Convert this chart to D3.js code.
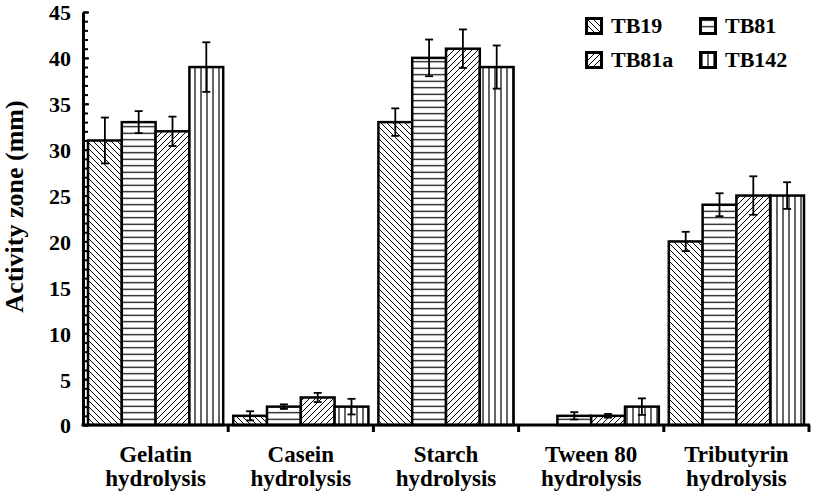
<!DOCTYPE html>
<html>
<head>
<meta charset="utf-8">
<script src="https://cdn.jsdelivr.net/npm/d3@7"></script>
<style>
	body { margin: 0; background: #fff; }
	svg { display: block; }
	text { font-family: "Liberation Serif", "Times New Roman", serif; font-weight: bold; fill: #000; }
</style>
</head>
<body>
<div id="chart"></div>
<script>
// categories on the x axis (two lines each)
var categories = ["Gelatin hydrolysis", "Casein hydrolysis", "Starch hydrolysis", "Tween 80 hydrolysis", "Tributyrin hydrolysis"];
var categoryLines = [["Gelatin", "hydrolysis"], ["Casein", "hydrolysis"], ["Starch", "hydrolysis"], ["Tween 80", "hydrolysis"], ["Tributyrin", "hydrolysis"]];
var series = ["TB19", "TB81", "TB81a", "TB142"];

// activity zone (mm), one array per strain
var tb19 = [31, 1, 33, 0, 20];
var tb81 = [33, 2, 40, 1, 24];
var tb81a = [32, 3, 41, 1, 25];
var tb142 = [39, 2, 39, 2, 25];

// error bar half-lengths
var tb19Err = [2.5, 0.5, 1.5, 0, 1.05];
var tb81Err = [1.2, 0.25, 2.0, 0.4, 1.25];
var tb81aErr = [1.6, 0.5, 2.1, 0.2, 2.1];
var tb142Err = [2.7, 0.85, 2.35, 0.9, 1.45];

var yTicks = [0, 5, 10, 15, 20, 25, 30, 35, 40, 45];

var values = {TB19: tb19, TB81: tb81, TB81a: tb81a, TB142: tb142};
var errors = {TB19: tb19Err, TB81: tb81Err, TB81a: tb81aErr, TB142: tb142Err};

var width = 815, height = 493;
var margin = {top: 12, right: 6, bottom: 68, left: 83};

var svg = d3.select("#chart").append("svg")
		.attr("width", width)
		.attr("height", height);

// hatch patterns
var defs = svg.append("defs");
var patterns = {
	TB19: {size: 6, d: "M-1,-1L7,7M-1,5L1,7M5,-1L7,1", w: 1},
	TB81: {size: 6.5, d: "M0,3.25H6.5", w: 1.2},
	TB81a: {size: 6, d: "M-1,7L7,-1M-1,1L1,-1M5,7L7,5", w: 1},
	TB142: {size: 6, d: "M3,0V6", w: 1.2}
};
series.forEach(function(s) {
	var p = patterns[s];
	var pat = defs.append("pattern")
			.attr("id", "pat-" + s)
			.attr("patternUnits", "userSpaceOnUse")
			.attr("width", p.size)
			.attr("height", p.size);
	pat.append("rect").attr("width", p.size).attr("height", p.size).attr("fill", "#fff");
	pat.append("path").attr("d", p.d).attr("stroke", "#000").attr("stroke-width", p.w).attr("fill", "none");
});

var x0 = d3.scaleBand()
		.domain(categories)
		.range([margin.left, width - margin.right])
		.padding(0);

var x1 = d3.scaleBand()
		.domain(series)
		.range([5, x0.bandwidth() - 5]);

var y = d3.scaleLinear()
		.domain([0, 45])
		.range([height - margin.bottom, margin.top]);

var rows = [];
categories.forEach(function(c, i) {
	series.forEach(function(s) {
		rows.push({cat: c, key: s, value: values[s][i], err: errors[s][i]});
	});
});

// bars
var bars = svg.append("g").attr("class", "bars");
bars.selectAll("rect")
	.data(rows.filter(function(d) { return d.value > 0; }))
	.enter().append("rect")
		.attr("x", function(d) { return x0(d.cat) + x1(d.key); })
		.attr("y", function(d) { return y(d.value); })
		.attr("width", x1.bandwidth())
		.attr("height", function(d) { return y(0) - y(d.value); })
		.attr("fill", function(d) { return "url(#pat-" + d.key + ")"; })
		.attr("stroke", "#000")
		.attr("stroke-width", 2.5);

// error bars
var eb = svg.append("g").attr("class", "errors")
	.selectAll("g")
	.data(rows.filter(function(d) { return d.err > 0; }))
	.enter().append("g")
		.attr("transform", function(d) { return "translate(" + (x0(d.cat) + x1(d.key) + x1.bandwidth() / 2) + ",0)"; })
		.attr("stroke", "#000")
		.attr("stroke-width", 1.8);

eb.append("line")
		.attr("y1", function(d) { return y(d.value + d.err); })
		.attr("y2", function(d) { return y(d.value - d.err); });
eb.append("line")
		.attr("x1", -4).attr("x2", 4)
		.attr("y1", function(d) { return y(d.value + d.err); })
		.attr("y2", function(d) { return y(d.value + d.err); });
eb.append("line")
		.attr("x1", -4).attr("x2", 4)
		.attr("y1", function(d) { return y(d.value - d.err); })
		.attr("y2", function(d) { return y(d.value - d.err); });

// y axis: minor ticks every 1, major ticks with labels every 5
svg.append("g")
		.attr("class", "y minor")
		.attr("transform", "translate(" + margin.left + ",0)")
		.call(d3.axisLeft(y).tickValues(d3.range(0, 46)).tickSize(-5).tickFormat(""))
		.call(function(g) { g.select(".domain").remove(); })
		.selectAll("line").attr("stroke-width", 2);

var yAxisG = svg.append("g")
		.attr("class", "y axis")
		.attr("transform", "translate(" + margin.left + ",0)")
		.call(d3.axisLeft(y).tickValues(yTicks).tickSizeInner(-6).tickSizeOuter(0).tickPadding(12));
yAxisG.select(".domain").attr("stroke-width", 3);
yAxisG.selectAll("line").attr("stroke-width", 2);
yAxisG.selectAll("text")
		.attr("font-size", 22)
		.attr("font-family", null)
		.attr("dy", "0.36em");

// x axis line with ticks at group boundaries
var xAxisG = svg.append("g").attr("class", "x axis");
xAxisG.append("line")
		.attr("x1", x0.range()[0] - 1.5)
		.attr("x2", x0.range()[1] + 1)
		.attr("y1", y(0))
		.attr("y2", y(0))
		.attr("stroke", "#000")
		.attr("stroke-width", 3);
xAxisG.selectAll(".tick")
	.data(categories)
	.enter().append("line")
		.attr("class", "tick")
		.attr("x1", function(d) { return x0(d) + x0.bandwidth(); })
		.attr("x2", function(d) { return x0(d) + x0.bandwidth(); })
		.attr("y1", y(0))
		.attr("y2", y(0) + 7)
		.attr("stroke", "#000")
		.attr("stroke-width", 3);

var labels = xAxisG.selectAll(".cat-label")
	.data(categories)
	.enter().append("text")
		.attr("class", "cat-label")
		.attr("text-anchor", "middle")
		.attr("font-size", 23)
		.attr("transform", function(d) { return "translate(" + (x0(d) + x0.bandwidth() / 2) + ",0)"; });
labels.selectAll("tspan")
	.data(function(d, i) { return categoryLines[i]; })
	.enter().append("tspan")
		.attr("x", 0)
		.attr("y", function(d, i) { return 462 + i * 24; })
		.text(function(d) { return d; });

// y axis title
svg.append("text")
		.attr("transform", "translate(23," + ((y(0) + y(45)) / 2 - 12) + ") rotate(-90)")
		.attr("text-anchor", "middle")
		.attr("font-size", 26)
		.text("Activity zone (mm)");

// legend
var legendPos = {TB19: [585, 17], TB81: [699, 17], TB81a: [585, 51], TB142: [699, 51]};
var legend = svg.append("g").attr("class", "legend")
	.selectAll(".legend-group")
	.data(series)
	.enter().append("g")
		.attr("class", "legend-group")
		.attr("transform", function(d) { return "translate(" + legendPos[d][0] + "," + legendPos[d][1] + ")"; });

legend.append("rect")
		.attr("x", 1.5)
		.attr("y", 1.5)
		.attr("width", 15)
		.attr("height", 15)
		.attr("fill", function(d) { return "url(#pat-" + d + ")"; })
		.attr("stroke", "#000")
		.attr("stroke-width", 3);

legend.append("text")
		.attr("x", 26)
		.attr("y", 16)
		.attr("font-size", 22)
		.text(function(d) { return d; });
</script>
</body>
</html>
